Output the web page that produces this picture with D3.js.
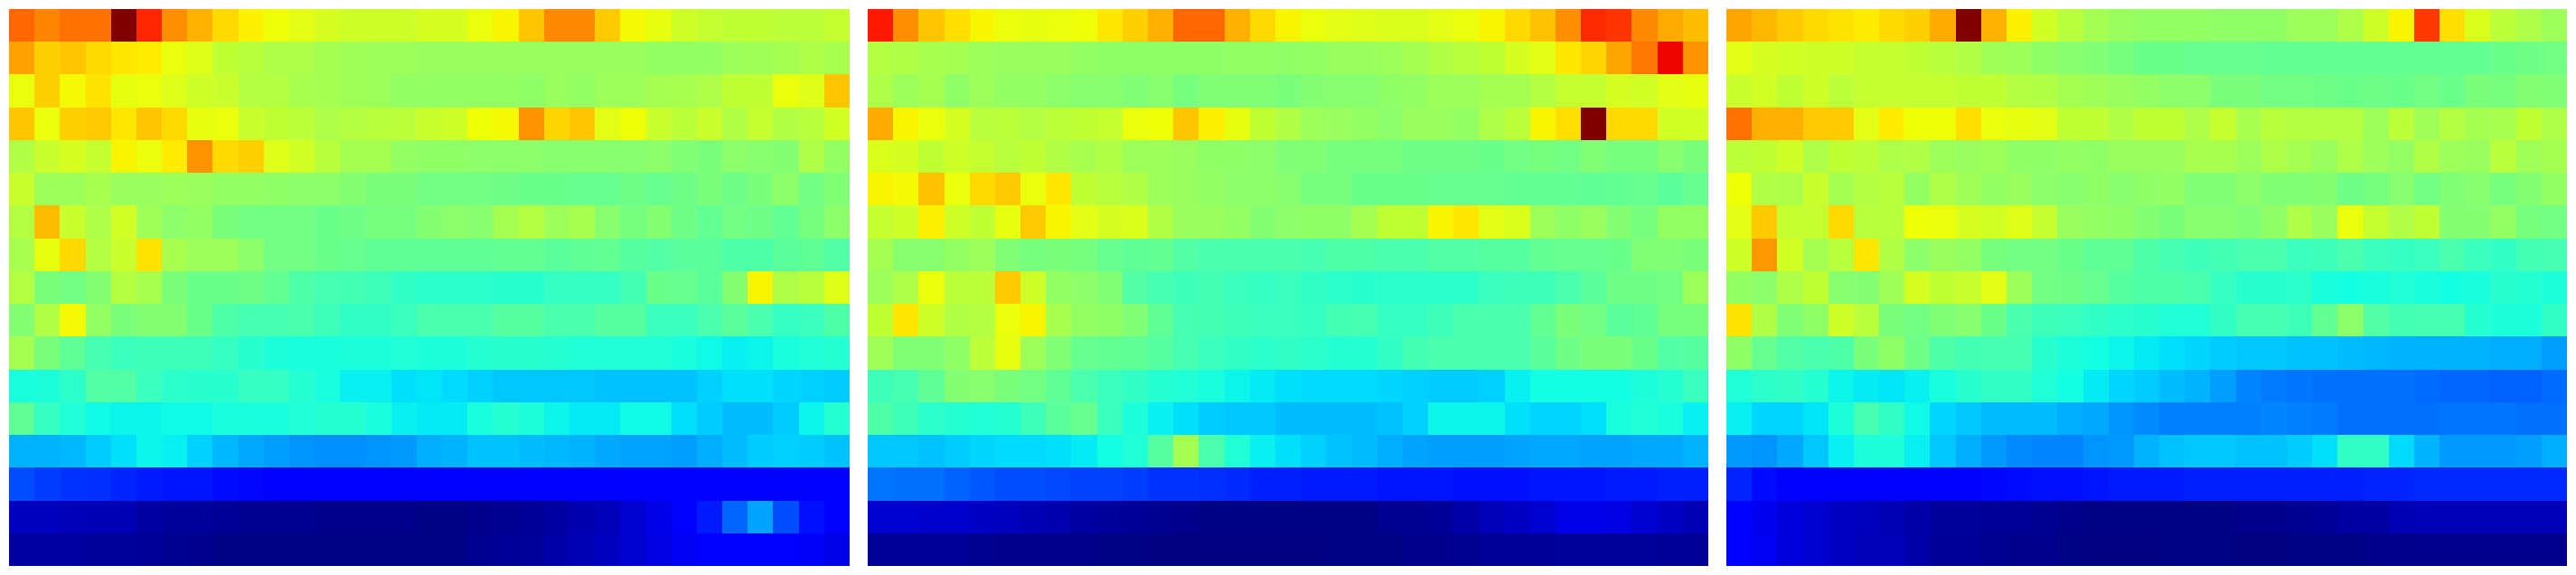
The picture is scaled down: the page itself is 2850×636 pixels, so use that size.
<!DOCTYPE html>
<html>
<head>
<meta charset="utf-8">
<script src="https://cdn.jsdelivr.net/npm/d3@7"></script>
<style>html,body{margin:0;padding:0;background:#fff}svg{display:block}</style>
</head>
<body>
<svg id="chart" width="2850" height="636"></svg>
<script>
// Cell values (colour-scale position x 1000), rows top to bottom, columns left to right
const panelA = [
[800,770,790,790,1000,870,760,720,680,655,640,625,610,600,600,600,610,610,635,650,700,765,765,695,645,630,600,590,585,585,580,580,590],
[740,690,700,680,665,660,635,620,585,575,560,560,550,545,540,540,535,535,535,535,535,535,535,535,535,530,530,530,540,545,550,560,555],
[635,690,645,670,630,635,620,600,595,570,570,555,550,545,540,530,530,530,530,530,525,535,530,540,540,550,555,560,585,585,635,620,700],
[700,635,690,695,665,700,680,630,635,595,585,580,560,570,575,580,595,600,640,645,755,685,700,625,640,595,580,595,565,590,565,575,605],
[565,595,610,590,650,635,660,755,680,690,620,605,575,550,550,530,525,525,520,520,520,515,515,515,515,520,505,500,520,515,510,560,530],
[595,540,540,555,535,535,540,535,530,530,525,520,520,510,500,500,490,490,490,485,480,480,475,475,485,475,485,500,485,500,520,490,505],
[570,710,595,560,605,545,520,530,500,490,490,490,480,485,495,495,510,520,515,550,570,540,555,515,495,510,485,470,490,485,470,495,520],
[555,630,680,570,595,670,555,540,540,520,490,490,480,475,465,465,465,465,465,470,470,460,465,470,455,450,460,460,445,445,460,465,450],
[570,500,490,510,570,555,500,480,480,485,470,445,435,430,425,410,405,405,405,400,400,415,415,415,430,480,475,460,510,650,560,575,620],
[510,565,645,530,500,510,510,480,445,435,435,440,425,410,410,420,440,440,440,455,455,440,440,455,455,420,420,440,460,440,415,420,445],
[550,500,465,435,420,425,425,425,415,400,385,380,380,385,385,390,385,385,395,400,400,395,390,390,390,390,380,370,360,365,380,390,395],
[380,385,405,450,450,420,405,400,400,415,415,395,380,360,360,345,350,340,330,320,320,320,320,315,315,315,315,330,345,345,335,330,325],
[465,415,390,370,365,365,370,370,380,380,380,390,395,395,380,360,355,355,380,395,385,365,355,355,370,370,345,325,310,310,325,365,395],
[300,300,305,325,345,365,360,330,305,290,280,270,265,265,270,275,295,300,315,315,310,305,300,290,285,285,280,295,310,325,330,325,315],
[200,185,175,170,160,150,145,145,135,130,125,115,115,115,115,115,115,115,115,115,115,115,115,115,115,115,115,120,125,125,125,125,125],
[55,55,50,45,45,30,25,25,20,15,15,15,10,10,10,10,5,5,10,15,20,30,40,50,70,90,110,150,225,285,200,140,110],
[30,30,30,25,25,20,15,10,5,5,5,5,5,5,5,5,5,5,15,20,25,35,45,55,70,85,100,110,110,110,110,105,90]
];
const panelB = [
[885,760,700,675,650,635,630,635,640,665,690,725,800,800,725,680,650,635,625,620,615,615,625,635,650,680,705,760,865,855,765,730,710],
[570,565,555,550,540,535,535,535,530,525,525,525,525,525,530,530,525,530,535,535,540,550,565,575,585,610,625,665,685,735,785,905,755],
[560,540,550,525,540,530,530,520,515,515,505,515,495,505,505,505,500,510,515,515,525,530,540,540,550,550,570,590,590,610,605,625,630],
[730,650,635,610,575,580,570,580,585,590,635,640,700,655,630,585,565,540,535,530,520,535,535,530,560,580,650,675,1000,680,680,605,605],
[615,610,585,600,590,575,585,565,555,565,540,540,535,525,525,520,505,505,495,495,495,485,485,485,480,490,495,490,505,495,495,515,500],
[650,645,705,635,680,695,635,665,585,575,565,540,535,530,520,520,515,495,495,480,480,480,475,475,475,470,470,470,465,470,475,460,475],
[590,600,655,600,585,630,695,650,625,610,615,565,535,535,530,510,520,525,525,550,585,585,650,665,625,615,540,525,535,510,495,530,530],
[550,515,515,530,540,505,495,500,495,475,465,470,450,440,440,440,440,435,445,445,440,440,450,450,455,455,470,475,475,480,505,505,500],
[540,560,635,580,580,695,600,530,520,505,450,435,425,430,420,415,420,410,405,400,405,405,405,405,420,425,425,440,460,485,485,490,540],
[585,665,600,565,570,635,650,555,530,525,505,465,435,430,425,420,420,415,430,435,415,415,425,440,440,440,470,500,490,460,465,495,495],
[545,505,505,525,580,630,540,505,475,470,465,455,435,420,410,405,410,405,395,395,410,430,440,440,440,440,460,485,500,500,480,450,455],
[425,435,465,510,515,500,490,465,440,420,410,395,390,380,365,355,345,340,340,340,335,330,325,325,330,360,375,375,375,375,385,395,420],
[445,425,405,395,390,395,425,460,475,420,385,360,345,325,320,320,310,310,310,310,315,330,365,365,365,345,335,335,345,380,390,380,360],
[320,320,315,325,335,340,340,345,355,375,390,455,550,440,390,360,345,330,315,310,295,285,280,280,280,285,290,290,285,285,290,290,300],
[240,235,235,220,210,200,200,195,190,190,185,175,175,170,165,155,155,150,150,150,145,145,145,140,140,140,145,145,145,150,150,155,155],
[70,70,65,65,60,55,45,40,30,25,20,15,10,5,5,5,5,5,5,5,15,15,20,35,50,60,70,90,90,85,70,60,45],
[20,20,20,20,15,10,10,10,10,5,5,0,0,0,0,0,0,0,5,5,5,10,10,15,20,20,20,25,25,25,25,20,20]
];
const panelC = [
[735,715,695,680,670,660,680,690,730,1000,720,655,605,575,550,535,530,530,530,525,525,525,540,540,560,600,650,850,675,615,580,560,540],
[625,610,605,600,600,590,590,585,575,565,545,540,525,515,505,495,480,480,475,475,475,470,470,470,470,470,470,470,470,470,480,485,490],
[595,605,585,600,580,590,590,590,590,585,585,570,565,550,545,535,530,520,520,500,500,490,490,485,480,485,480,490,480,500,495,510,505],
[790,725,725,695,695,625,660,640,640,675,635,630,625,585,585,565,585,585,560,590,555,575,570,570,570,540,580,545,570,550,555,585,560],
[580,585,600,560,585,580,560,565,540,535,540,525,525,530,525,535,535,535,555,555,540,560,550,535,560,540,530,565,540,535,575,545,550],
[640,565,560,595,550,570,575,530,560,545,530,535,520,515,525,515,525,530,505,505,520,505,505,510,485,495,515,490,505,515,495,510,530],
[625,695,590,590,680,575,575,640,635,610,605,620,590,535,530,525,510,500,515,515,505,525,560,535,635,590,565,585,510,510,530,495,490],
[600,750,605,550,575,665,565,520,535,530,495,490,490,480,465,465,445,435,425,430,440,440,420,425,440,420,415,420,440,420,410,430,435],
[530,520,560,585,515,510,545,610,585,595,625,540,490,485,475,455,445,445,440,415,400,400,405,380,375,380,390,380,375,380,400,395,385],
[670,565,505,525,600,575,500,490,505,515,480,440,425,420,410,405,400,390,390,410,435,435,425,470,520,450,430,435,435,395,385,385,410],
[525,475,450,440,445,500,525,485,445,430,435,435,400,385,375,365,355,345,335,325,320,320,315,315,310,305,300,300,300,300,295,295,280],
[390,405,410,395,365,355,350,360,380,400,410,410,390,375,355,335,325,310,300,280,255,245,240,235,235,235,235,230,225,225,220,220,230],
[360,335,335,350,385,435,410,370,335,320,310,310,310,295,290,270,260,250,250,250,250,255,250,245,235,235,235,235,240,240,240,235,235],
[275,270,290,320,360,385,385,360,320,295,275,260,255,255,270,275,300,315,320,320,315,315,325,345,410,410,340,300,275,275,275,280,295],
[160,135,120,115,115,115,115,115,120,125,130,135,140,140,145,150,150,150,155,155,155,155,155,155,155,160,160,165,165,165,165,165,165],
[110,95,80,70,60,55,45,35,25,25,20,20,15,10,5,5,5,5,5,5,10,10,15,20,30,30,45,50,50,50,50,50,50],
[110,100,80,70,60,50,50,35,20,20,15,10,10,5,0,0,0,5,5,5,0,0,5,5,5,10,10,10,10,10,10,10,10]
];
const panels = [panelA, panelB, panelC];

// Jet colour stops
const redStops = [[0,0],[350,0],[660,1],[890,1],[1000,0.5]];
const greenStops = [[0,0],[125,0],[375,1],[640,1],[910,0],[1000,0]];
const blueStops = [[0,0.5],[110,1],[340,1],[650,0],[1000,0]];
const channel = s => d3.scaleLinear().domain(s.map(d => d[0])).range(s.map(d => d[1] * 255)).clamp(true);
const rC = channel(redStops), gC = channel(greenStops), bC = channel(blueStops);
const jet = v => `rgb(${Math.round(rC(v))},${Math.round(gC(v))},${Math.round(bC(v))})`;

const W = 2850, H = 636, margin = 10, gap = 20;
const panelWidth = (W - 2 * margin - 2 * gap) / 3;
const panelX = d3.scaleLinear().domain([0, 1]).range([margin, margin + panelWidth + gap]);
const nCols = panelA[0].length, nRows = panelA.length;
const x = d3.scaleLinear().domain([0, nCols]).range([0, panelWidth]);
const y = d3.scaleLinear().domain([0, nRows]).range([margin, H - margin]);
const snap = v => Math.round(v - 0.001);

const svg = d3.select('#chart');
svg.selectAll('g.panel').data(panels).join('g')
  .attr('class', 'panel')
  .each(function (rows, p) {
    const x0 = panelX(p);
    const cells = rows.flatMap((row, r) => row.map((v, c) => ({ v, r, c })));
    d3.select(this).selectAll('rect').data(cells).join('rect')
      .attr('shape-rendering', 'crispEdges')
      .attr('x', d => snap(x0 + x(d.c)))
      .attr('y', d => snap(y(d.r)))
      .attr('width', d => snap(x0 + x(d.c + 1)) - snap(x0 + x(d.c)))
      .attr('height', d => snap(y(d.r + 1)) - snap(y(d.r)))
      .attr('fill', d => jet(d.v));
  });
</script>
</body>
</html>
